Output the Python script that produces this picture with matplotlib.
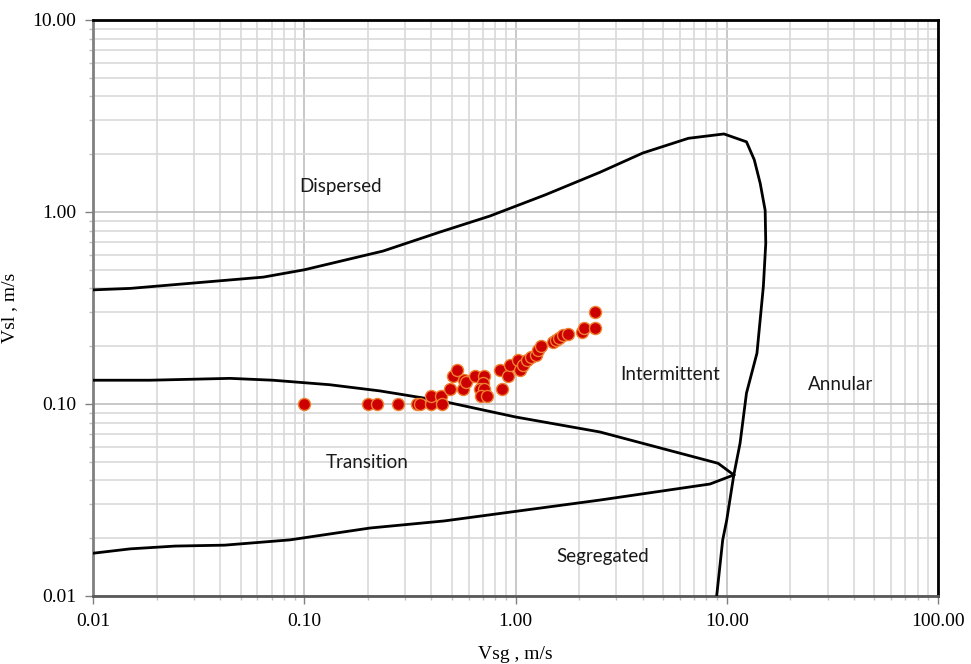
import matplotlib
matplotlib.use("Agg")
import matplotlib.pyplot as plt
from matplotlib.ticker import FixedLocator, LogLocator, NullFormatter

# flow-regime boundaries (Vsg, Vsl in m/s)
upper_x = [0.01, 0.015, 0.064, 0.10, 0.236, 0.44, 0.757, 1.38, 2.51, 4.01, 6.58, 9.7,
           12.4, 13.5, 14.4, 15.2, 15.3, 14.9, 13.9, 12.4, 11.56, 10.8, 10.0, 9.57, 8.96]
upper_y = [0.393, 0.40, 0.458, 0.50, 0.626, 0.787, 0.953, 1.227, 1.61, 2.03, 2.42, 2.55,
           2.32, 1.87, 1.41, 1.02, 0.687, 0.408, 0.184, 0.114, 0.0624, 0.0427, 0.0249, 0.0196, 0.01]

middle_x = [0.01, 0.0186, 0.0445, 0.071, 0.132, 0.228, 0.44, 1.0, 2.51, 9.1, 10.8]
middle_y = [0.133, 0.133, 0.136, 0.133, 0.126, 0.117, 0.104, 0.0856, 0.0715, 0.0491, 0.0427]

lower_x = [0.01, 0.015, 0.0245, 0.042, 0.0855, 0.205, 0.46, 2.51, 8.33, 10.8]
lower_y = [0.0167, 0.0176, 0.0182, 0.0184, 0.0196, 0.0226, 0.0246, 0.0316, 0.0383, 0.0427]

# measured points
vsg = [0.10, 0.20, 0.22, 0.278, 0.342, 0.352, 0.40, 0.40, 0.443, 0.45, 0.49, 0.508, 0.531,
       0.572, 0.565, 0.58, 0.643, 0.709, 0.70, 0.68, 0.71, 0.69, 0.735, 0.845, 0.867, 0.917,
       0.94, 1.03, 1.05, 1.08, 1.13, 1.18, 1.25, 1.28, 1.32, 1.50, 1.55, 1.60, 1.67, 1.78,
       2.06, 2.10, 2.38, 2.38]
vsl = [0.10, 0.10, 0.10, 0.10, 0.10, 0.10, 0.10, 0.11, 0.11, 0.10, 0.12, 0.14, 0.15,
       0.134, 0.12, 0.13, 0.14, 0.14, 0.129, 0.12, 0.12, 0.11, 0.11, 0.15, 0.12, 0.14,
       0.16, 0.17, 0.15, 0.16, 0.17, 0.176, 0.18, 0.19, 0.20, 0.21, 0.215, 0.22, 0.23, 0.231,
       0.238, 0.25, 0.25, 0.30]

regions = ["Dispersed", "Intermittent", "Annular", "Transition", "Segregated"]
region_x = [0.148, 5.39, 34.4, 0.198, 2.59]
region_y = [1.365, 0.143, 0.127, 0.0493, 0.016]

x_ticks = [0.01, 0.1, 1, 10, 100]
x_labels = ["0.01", "0.10", "1.00", "10.00", "100.00"]
y_ticks = [0.01, 0.1, 1, 10]
y_labels = ["0.01", "0.10", "1.00", "10.00"]

fig = plt.figure(figsize=(9.71, 6.64), dpi=100)
ax = fig.add_axes([93 / 971, 1 - 596 / 664, 845 / 971, 576 / 664])
ax.set_xscale("log")
ax.set_yscale("log")
ax.set_xlim(0.01, 100)
ax.set_ylim(0.01, 10)

ax.set_xticks(x_ticks)
ax.set_xticklabels(x_labels)
ax.set_yticks(y_ticks)
ax.set_yticklabels(y_labels)
ax.xaxis.set_minor_locator(LogLocator(base=10, subs=range(2, 10)))
ax.yaxis.set_minor_locator(LogLocator(base=10, subs=range(2, 10)))
ax.xaxis.set_minor_formatter(NullFormatter())
ax.yaxis.set_minor_formatter(NullFormatter())

ax.grid(which="minor", color="#d9d9d9", linewidth=1.2)
ax.grid(which="major", color="#bfbfbf", linewidth=1.2)
ax.set_axisbelow(True)

for x, y in [(upper_x, upper_y), (middle_x, middle_y), (lower_x, lower_y)]:
    ax.plot(x, y, color="black", linewidth=2.0, zorder=3)

ax.scatter(vsg, vsl, s=75, color="#cc0000", edgecolors="#f08030", linewidths=1.0, zorder=4)

for name, x, y in zip(regions, region_x, region_y):
    ax.text(x, y, name, ha="center", va="center", fontsize=13.5,
            family=["Lato", "DejaVu Sans"], color="#1a1a1a", zorder=5)

ax.spines["top"].set_color("black")
ax.spines["top"].set_linewidth(2.0)
ax.spines["right"].set_color("black")
ax.spines["right"].set_linewidth(2.0)
ax.spines["left"].set_color("#808080")
ax.spines["left"].set_linewidth(2.0)
ax.spines["bottom"].set_color("#595959")
ax.spines["bottom"].set_linewidth(2.0)

ax.tick_params(which="major", direction="out", length=6, color="#808080", width=1.0,
               labelsize=14, pad=6)
ax.tick_params(which="minor", direction="out", length=3, color="#bfbfbf", width=1.0)
for lab in ax.get_xticklabels() + ax.get_yticklabels():
    lab.set_family("Liberation Serif")

ax.set_xlabel("Vsg , m/s", fontsize=14, family="Liberation Serif", labelpad=12)
ax.set_ylabel("Vsl , m/s", fontsize=14, family="Liberation Serif", labelpad=10)

fig.savefig("out.png", dpi=100)
